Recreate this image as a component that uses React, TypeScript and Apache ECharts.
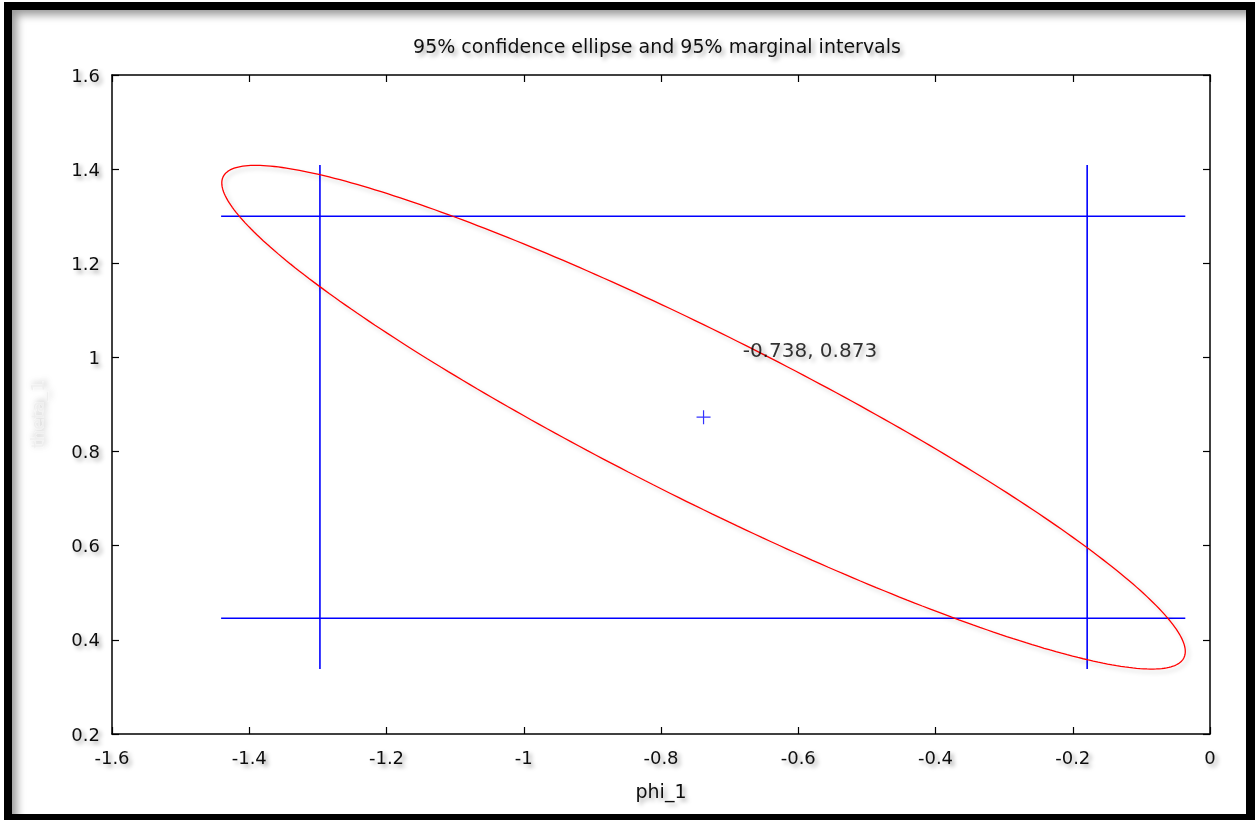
import React, { useEffect, useRef } from "react";
import * as echarts from "echarts";

// Estimates
const estimate = [-0.738, 0.873]; // phi_1, theta_1
const phiInterval = [-1.297, -0.179]; // 95% marginal interval of phi_1
const thetaInterval = [0.446, 1.3]; // 95% marginal interval of theta_1
const hLineSpan = [-1.441, -0.036]; // horizontal extent of marginal lines
const vLineSpan = [0.338, 1.409]; // vertical extent of marginal lines
const ellipseHalf = [0.702, 0.535]; // half extents of the 95% ellipse
const ellipseRho = -0.93; // correlation of the estimates
const labelText = ["-0.738, 0.873"];
const labelPos = [-0.681, 1.015];

const FONT = "DejaVu Sans";
const shadowText = {
  textShadowColor: "rgba(0,0,0,0.35)",
  textShadowBlur: 4,
  textShadowOffsetX: 3,
  textShadowOffsetY: 3,
};
const curveShadow = {
  shadowColor: "rgba(0,0,0,0.2)",
  shadowBlur: 4,
  shadowOffsetX: 3,
  shadowOffsetY: 3,
};

function ellipsePoints() {
  const pts: number[][] = [];
  const n = 360;
  const s = Math.sqrt(1 - ellipseRho * ellipseRho);
  for (let i = 0; i <= n; i++) {
    const t = (2 * Math.PI * i) / n;
    const c = Math.cos(t);
    const sn = Math.sin(t);
    pts.push([
      estimate[0] + ellipseHalf[0] * c,
      estimate[1] + ellipseHalf[1] * (ellipseRho * c + s * sn),
    ]);
  }
  return pts;
}

export default function App() {
  const ref = useRef<HTMLDivElement>(null);
  useEffect(() => {
    if (!ref.current) return;
    const chart = echarts.init(ref.current, null, { renderer: "svg" });
    const axisLine = {
      show: true,
      onZero: false,
      lineStyle: { color: "#000", width: 1.5 },
    };
    const axisTick = { show: true, inside: true, length: 7, lineStyle: { color: "#000", width: 1.2 } };
    const labelStyle = { fontFamily: FONT, fontSize: 18, color: "#111", ...shadowText };
    const blueLine = (data: number[][]) => ({
      type: "line",
      data,
      symbol: "none",
      silent: true,
      lineStyle: { color: "#0000ff", width: 1.6 },
      z: 3,
    });
    const option: any = {
      animation: false,
      backgroundColor: "#fff",
      title: {
        text: "95% confidence ellipse and 95% marginal intervals",
        left: 652,
        textAlign: "center",
        top: 31,
        textStyle: { ...labelStyle, fontSize: 19, fontWeight: "normal", color: "#111" },
      },
      grid: { left: 112, top: 75, width: 1098, height: 659 },
      xAxis: [
        {
          type: "value",
          min: -1.6,
          max: 0,
          interval: 0.2,
          position: "bottom",
          name: "phi_1",
          nameLocation: "middle",
          nameGap: 47,
          nameTextStyle: { ...labelStyle, fontSize: 19 },
          axisLine,
          axisTick,
          axisLabel: { ...labelStyle, margin: 14 },
          splitLine: { show: false },
        },
        {
          type: "value",
          min: -1.6,
          max: 0,
          interval: 0.2,
          position: "top",
          axisLine,
          axisTick,
          axisLabel: { show: false },
          splitLine: { show: false },
        },
      ],
      yAxis: [
        {
          type: "value",
          min: 0.2,
          max: 1.6,
          interval: 0.2,
          position: "left",
          name: "theta_1",
          nameLocation: "middle",
          nameGap: 66,
          nameRotate: 90,
          nameTextStyle: {
            fontFamily: FONT,
            fontSize: 18,
            color: "#eeeeee",
            padding: [0, 20, 0, 0],
            textShadowColor: "rgba(0,0,0,0.3)",
            textShadowBlur: 6,
            textShadowOffsetX: 2,
            textShadowOffsetY: 2,
          },
          axisLine,
          axisTick,
          axisLabel: { ...labelStyle, margin: 12 },
          splitLine: { show: false },
        },
        {
          type: "value",
          min: 0.2,
          max: 1.6,
          interval: 0.2,
          position: "right",
          axisLine,
          axisTick,
          axisLabel: { show: false },
          splitLine: { show: false },
        },
      ],
      series: [
        {
          type: "line",
          data: ellipsePoints(),
          symbol: "none",
          silent: true,
          lineStyle: { color: "#ff0000", width: 1.3, ...curveShadow },
          z: 4,
        },
        blueLine([[hLineSpan[0], thetaInterval[1]], [hLineSpan[1], thetaInterval[1]]]),
        blueLine([[hLineSpan[0], thetaInterval[0]], [hLineSpan[1], thetaInterval[0]]]),
        blueLine([[phiInterval[0], vLineSpan[0]], [phiInterval[0], vLineSpan[1]]]),
        blueLine([[phiInterval[1], vLineSpan[0]], [phiInterval[1], vLineSpan[1]]]),
        {
          type: "scatter",
          data: [estimate],
          symbol: "path://M0,6.4h14v1.2h-14z M6.4,0h1.2v14h-1.2z",
          symbolSize: 14,
          itemStyle: { color: "#0000ff" },
          silent: true,
          z: 5,
        },
        {
          type: "scatter",
          data: [labelPos],
          symbolSize: 0,
          silent: true,
          label: {
            show: true,
            position: "inside",
            align: "left",
            verticalAlign: "middle",
            formatter: () => labelText[0],
            ...labelStyle,
            color: "#000",
            fontSize: 20,
          },
          z: 6,
        },
      ],
    };
    chart.setOption(option);
    return () => chart.dispose();
  }, []);
  return (
    <div style={{ position: "fixed", left: 0, top: 0, width: 1255, height: 820, background: "#fff" }}>
      <div ref={ref} style={{ position: "absolute", left: 0, top: 0, width: 1255, height: 820 }} />
      <div
        style={{
          position: "absolute",
          left: 4,
          top: 2,
          width: 1251,
          height: 818,
          boxSizing: "border-box",
          borderLeft: "8px solid #000",
          borderTop: "8px solid #000",
          borderRight: "9px solid #000",
          borderBottom: "6px solid #000",
          boxShadow: "inset 7px 7px 9px -2px rgba(0,0,0,0.4)",
          pointerEvents: "none",
        }}
      />
    </div>
  );
}
